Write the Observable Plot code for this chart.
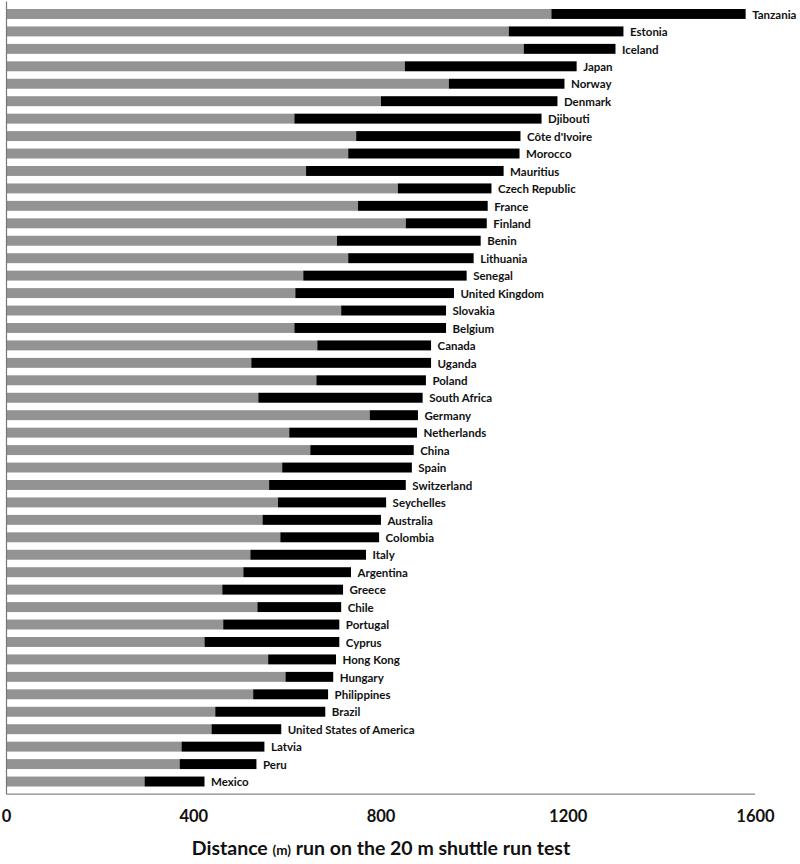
<!DOCTYPE html>
<html>
<head>
<meta charset="utf-8">
<script src="https://cdn.jsdelivr.net/npm/d3@7"></script>
<script src="https://cdn.jsdelivr.net/npm/@observablehq/plot@0.6"></script>
<style>
  html, body { margin: 0; padding: 0; background: #fff; overflow: hidden; }
  #chart { width: 800px; height: 830px; }
  #chart svg { display: block; }
  .title { width: 800px; position: relative; height: 34px; font-family: Lato, sans-serif; font-weight: 700; }
  .title div { position: absolute; left: 0; width: 762px; text-align: center; top: 6px; font-size: 19.5px; color: #111; }
  .title span.small { font-size: 13.5px; }
</style>
</head>
<body>
<div id="chart"></div>
<div class="title"><div>Distance <span class="small">(m)</span> run on the 20 m shuttle run test</div></div>
<script>
const countries = [
  "Tanzania","Estonia","Iceland","Japan","Norway","Denmark","Djibouti","Côte d'Ivoire","Morocco","Mauritius",
  "Czech Republic","France","Finland","Benin","Lithuania","Senegal","United Kingdom","Slovakia","Belgium","Canada",
  "Uganda","Poland","South Africa","Germany","Netherlands","China","Spain","Switzerland","Seychelles","Australia",
  "Colombia","Italy","Argentina","Greece","Chile","Portugal","Cyprus","Hong Kong","Hungary","Philippines",
  "Brazil","United States of America","Latvia","Peru","Mexico"
];
// end of the grey segment (m)
const greyEnd = [
  1165,1074,1106,852,946,801,616,748,731,641,
  837,752,854,707,731,635,618,716,616,665,
  524,663,539,777,605,650,590,562,581,548,
  586,522,507,462,537,464,424,560,597,528,
  447,439,375,371,296
];
// total distance (end of black segment, m)
const totalEnd = [
  1580,1319,1302,1219,1193,1178,1144,1099,1097,1063,
  1037,1029,1027,1014,999,984,957,940,940,908,
  908,897,890,880,878,871,867,854,812,801,
  797,769,737,720,716,712,712,705,699,688,
  682,588,552,535,424
];
const xTicks = [0, 400, 800, 1200, 1600];

const data = countries.map((c, i) => ({country: c, grey: greyEnd[i], total: totalEnd[i]}));

const chart = Plot.plot({
  width: 800,
  height: 830,
  marginTop: 1.5,
  marginBottom: 36,
  marginLeft: 6,
  marginRight: 45,
  style: {fontFamily: "Lato, sans-serif", background: "#fff"},
  x: {domain: [0, 1600], ticks: xTicks, label: null},
  y: {domain: countries, padding: 0.43, round: false, axis: null},
  marks: [
    Plot.barX(data, {y: "country", x1: 0, x2: "grey", fill: "#939393"}),
    Plot.barX(data, {y: "country", x1: "grey", x2: "total", fill: "#000"}),
    Plot.text(data, {y: "country", x: "total", text: "country", textAnchor: "start", dx: 6, dy: 0.5,
      fontSize: 11.5, fontWeight: 700, fill: "#111"}),
    Plot.ruleX([0], {stroke: "#777", strokeWidth: 1.2}),
    Plot.ruleY([countries[countries.length - 1]], {x1: 0, x2: 1600, dy: 12, stroke: "#888", strokeWidth: 1.2}),
    Plot.axisX({ticks: xTicks, tickSize: 0, tickPadding: 16, fontSize: 16.5, fontWeight: 700, fill: "#111", label: null, tickFormat: d => String(d)})
  ]
});
document.getElementById("chart").appendChild(chart);
</script>
</body>
</html>
